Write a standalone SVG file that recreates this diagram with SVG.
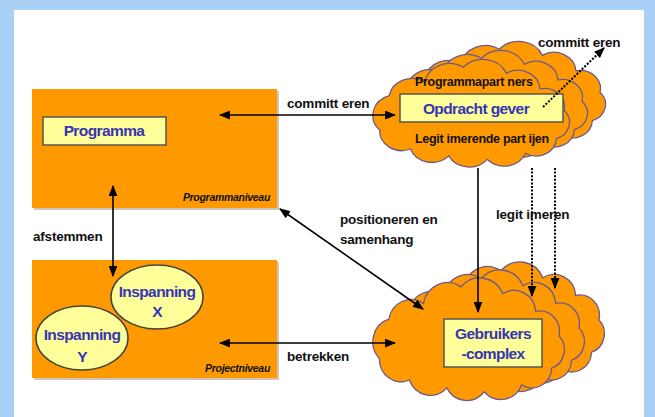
<svg xmlns="http://www.w3.org/2000/svg" width="655" height="417" viewBox="0 0 655 417">
<defs>
<style>
.lbl{font-family:"Liberation Sans",Arial,sans-serif;font-size:13.5px;font-weight:bold;fill:#111;letter-spacing:-0.2px}
.small{font-family:"Liberation Sans",Arial,sans-serif;font-size:12.5px;font-weight:bold;fill:#111;letter-spacing:-0.3px}
.lvl{font-family:"Liberation Sans",Arial,sans-serif;font-size:10.5px;font-style:italic;font-weight:bold;fill:#111;letter-spacing:-0.3px}
.blue{font-family:"Liberation Sans",Arial,sans-serif;font-size:15.5px;font-weight:bold;fill:#3535b5;letter-spacing:-0.6px;text-anchor:middle}
.panel{fill:#ff9900}
.shadow{fill:#b0a090;opacity:0.6}
.ybox{fill:#ffff99;stroke:#555;stroke-width:1.5}
.cloud{fill:#ff9900;stroke:#6b5a8c;stroke-width:1.3}
.con{fill:none;stroke:#000;stroke-width:1.6}
.dot{fill:none;stroke:#000;stroke-width:2;stroke-dasharray:2 1.6}
</style>
<marker id="ah" viewBox="0 0 10 8" refX="9" refY="4" markerWidth="11" markerHeight="9" markerUnits="userSpaceOnUse" orient="auto-start-reverse">
<path d="M0,0 L10,4 L0,8 Z" fill="#000"/>
</marker>
<path id="cl" vector-effect="non-scaling-stroke" d="M8,78 A24,24 0 0 1 18,38 A24,24 0 0 1 55,22 A26,26 0 0 1 95,5 A27,27 0 0 1 140,12 A23,23 0 0 1 175,30 A21,21 0 0 1 200,55 A20,20 0 0 1 192,88 A21,21 0 0 1 160,105 A24,24 0 0 1 120,112 A24,24 0 0 1 80,108 A24,24 0 0 1 40,100 A23,23 0 0 1 8,78 Z"/>
</defs>
<rect width="655" height="417" fill="#a9d1f5"/>
<rect x="14" y="10" width="630" height="407" fill="#fff"/>

<g id="programmaniveau">
<rect class="shadow" x="34" y="91" width="245" height="119"/>
<rect class="panel" x="32" y="89" width="245" height="119"/>
<text class="lvl" x="270" y="201" text-anchor="end">Programmaniveau</text>
</g>
<g id="programma">
<rect class="ybox" x="43" y="117" width="123" height="28"/>
<text class="blue" x="104" y="136">Programma</text>
</g>

<g id="projectniveau">
<rect class="shadow" x="34" y="262" width="245" height="118"/>
<rect class="panel" x="32" y="260" width="245" height="118"/>
<text class="lvl" x="270" y="372" text-anchor="end">Projectniveau</text>
</g>
<g id="inspanning-x">
<ellipse cx="157" cy="297" rx="46" ry="32" fill="#ffff99" stroke="#444" stroke-width="1.5"/>
<text class="blue" x="157" y="297">Inspanning</text>
<text class="blue" x="157" y="317">X</text>
</g>
<g id="inspanning-y">
<ellipse cx="82" cy="338" rx="46" ry="32" fill="#ffff99" stroke="#444" stroke-width="1.5"/>
<text class="blue" x="82" y="340">Inspanning</text>
<text class="blue" x="82" y="362">Y</text>
</g>

<g id="opdrachtgever-cloud">
<use href="#cl" class="cloud" transform="translate(408,45) scale(0.96,0.86)"/>
<use href="#cl" class="cloud" transform="translate(390,54) scale(0.96,0.86)"/>
<use href="#cl" class="cloud" transform="translate(372,63) scale(0.96,0.86)"/>
<text class="small" x="415" y="86">Programmapart ners</text>
<rect class="ybox" x="400" y="94" width="163" height="28"/>
<text class="blue" x="476" y="114">Opdracht gever</text>
<text class="small" x="415" y="143">Legit imerende part ijen</text>
</g>

<g id="gebruikers-cloud">
<use href="#cl" class="cloud" transform="translate(412,266) scale(0.935,0.98)"/>
<use href="#cl" class="cloud" transform="translate(392,274) scale(0.935,0.98)"/>
<use href="#cl" class="cloud" transform="translate(372,282) scale(0.935,0.98)"/>
<rect class="ybox" x="444" y="319" width="98" height="48"/>
<text class="blue" x="493" y="339">Gebruikers</text>
<text class="blue" x="493" y="359">-complex</text>
</g>

<g id="connectors">
<line class="con" x1="220" y1="115" x2="395" y2="115" marker-start="url(#ah)" marker-end="url(#ah)"/>
<line class="dot" x1="543" y1="107" x2="604" y2="48" marker-end="url(#ah)"/>
<line class="con" x1="113" y1="186" x2="113" y2="276" marker-start="url(#ah)" marker-end="url(#ah)"/>
<line class="con" x1="280" y1="209" x2="423" y2="309" marker-start="url(#ah)" marker-end="url(#ah)"/>
<line class="con" x1="220" y1="343" x2="395" y2="343" marker-start="url(#ah)" marker-end="url(#ah)"/>
<line class="con" x1="478" y1="168" x2="478" y2="312" marker-end="url(#ah)"/>
<line class="dot" x1="532" y1="168" x2="532" y2="296" marker-end="url(#ah)"/>
<line class="dot" x1="555" y1="168" x2="555" y2="288" marker-end="url(#ah)"/>
<text class="lbl" x="287" y="108">committ eren</text>
<text class="lbl" x="538" y="47">committ eren</text>
<text class="lbl" x="33" y="241">afstemmen</text>
<text class="lbl" x="340" y="224">positioneren en</text>
<text class="lbl" x="340" y="244">samenhang</text>
<text class="lbl" x="496" y="219">legit imeren</text>
<text class="lbl" x="287" y="361">betrekken</text>
</g>
</svg>
